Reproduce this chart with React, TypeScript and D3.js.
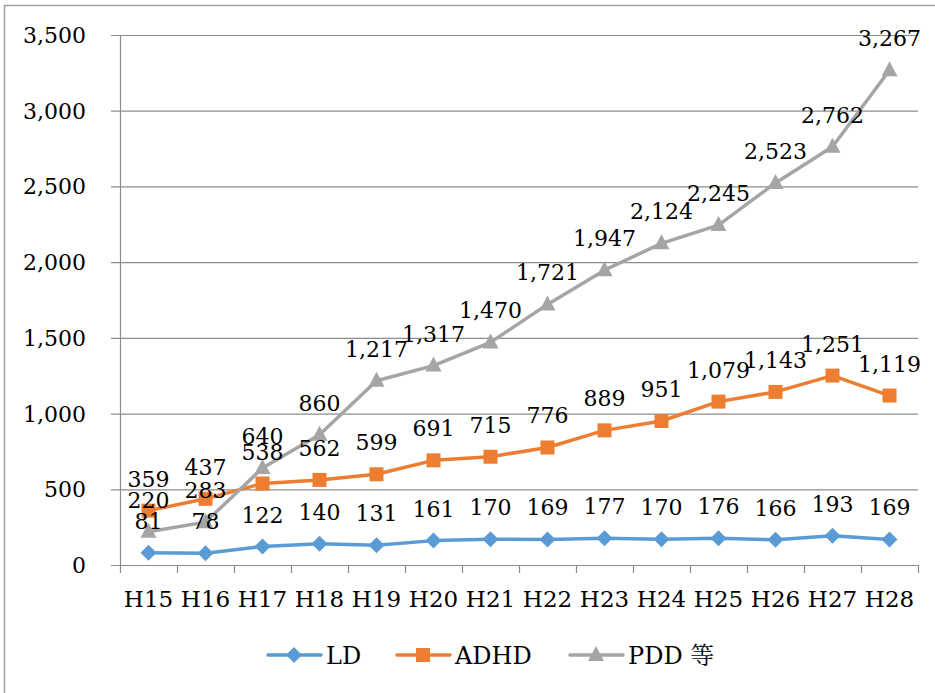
import React from "react"
import * as d3 from "d3"

const categories = ["H15", "H16", "H17", "H18", "H19", "H20", "H21", "H22", "H23", "H24", "H25", "H26", "H27", "H28"]
const ldValues = [81, 78, 122, 140, 131, 161, 170, 169, 177, 170, 176, 166, 193, 169]
const adhdValues = [359, 437, 538, 562, 599, 691, 715, 776, 889, 951, 1079, 1143, 1251, 1119]
const pddValues = [220, 283, 640, 860, 1217, 1317, 1470, 1721, 1947, 2124, 2245, 2523, 2762, 3267]
const yTicks = [0, 500, 1000, 1500, 2000, 2500, 3000, 3500]

const series = [
  { name: "LD", values: ldValues, color: "#5B9BD5", marker: "diamond" },
  { name: "ADHD", values: adhdValues, color: "#ED7D31", marker: "square" },
  { name: "PDD 等", values: pddValues, color: "#A5A5A5", marker: "triangle" },
]

const FONT = "'DejaVu Serif', 'Noto Serif CJK JP', 'Noto Sans CJK JP', serif"
const GRID = "#8c8c8c"

function Marker({ type, x, y, color }: { type: string; x: number; y: number; color: string }) {
  if (type === "diamond") {
    return <path d={`M${x},${y - 8}L${x + 8},${y}L${x},${y + 8}L${x - 8},${y}Z`} fill={color} />
  }
  if (type === "square") {
    return <rect x={x - 7} y={y - 7} width={14} height={14} fill={color} />
  }
  return <path d={`M${x},${y - 9}L${x + 8},${y + 6}L${x - 8},${y + 6}Z`} fill={color} />
}

export default function App() {
  const width = 935
  const height = 693
  const x = d3.scaleBand().domain(categories).range([120, 918])
  const y = d3.scaleLinear().domain([0, 3500]).range([565, 35])
  const cx = (c: string) => (x(c) ?? 0) + x.bandwidth() / 2
  const fmt = d3.format(",")
  const line = d3
    .line<number>()
    .x((_, i) => cx(categories[i]))
    .y((d) => y(d))

  const legendX = [268, 397, 570]

  return (
    <svg
      width={width}
      height={height}
      style={{ position: "fixed", left: 0, top: 0, background: "#fff" }}
      fontFamily={FONT}
    >
      <rect x={4.5} y={5.5} width={1000} height={1000} fill="none" stroke="#a0a0a0" strokeWidth={1.5} />

      {/* grid lines + y labels */}
      {yTicks.map((t) => (
        <g key={t}>
          <line x1={111} x2={918} y1={y(t) + 0.5} y2={y(t) + 0.5} stroke={GRID} strokeWidth={1.2} />
          <text x={86} y={y(t) + 8} textAnchor="end" fontSize={22} fill="#000">
            {fmt(t)}
          </text>
        </g>
      ))}

      {/* y axis */}
      <line x1={120.5} x2={120.5} y1={35} y2={573} stroke={GRID} strokeWidth={1.2} />

      {/* x ticks */}
      {categories.map((c) => (
        <line key={c} x1={(x(c) ?? 0) + x.bandwidth() + 0.5} x2={(x(c) ?? 0) + x.bandwidth() + 0.5} y1={565} y2={573} stroke={GRID} strokeWidth={1.2} />
      ))}
      {categories.map((c) => (
        <text key={c} x={cx(c)} y={607} textAnchor="middle" fontSize={23} fill="#000">
          {c}
        </text>
      ))}

      {/* series */}
      {series.map((s) => (
        <g key={s.name}>
          <path d={line(s.values) ?? ""} fill="none" stroke={s.color} strokeWidth={3.5} strokeLinejoin="round" />
          {s.values.map((v, i) => (
            <Marker key={i} type={s.marker} x={cx(categories[i])} y={y(v)} color={s.color} />
          ))}
        </g>
      ))}

      {/* data labels */}
      {series.map((s) => (
        <g key={s.name + "-labels"}>
          {s.values.map((v, i) => (
            <text key={i} x={cx(categories[i])} y={y(v) - 24} textAnchor="middle" fontSize={22} fill="#000">
              {fmt(v)}
            </text>
          ))}
        </g>
      ))}

      {/* legend */}
      {series.map((s, i) => (
        <g key={s.name + "-legend"}>
          <line x1={legendX[i]} x2={legendX[i] + 53} y1={655} y2={655} stroke={s.color} strokeWidth={3.5} strokeLinecap="round" />
          <Marker type={s.marker} x={legendX[i] + 26} y={655} color={s.color} />
          <text x={legendX[i] + 58} y={664} fontSize={24} fill="#000">
            {s.name}
          </text>
        </g>
      ))}
    </svg>
  )
}
